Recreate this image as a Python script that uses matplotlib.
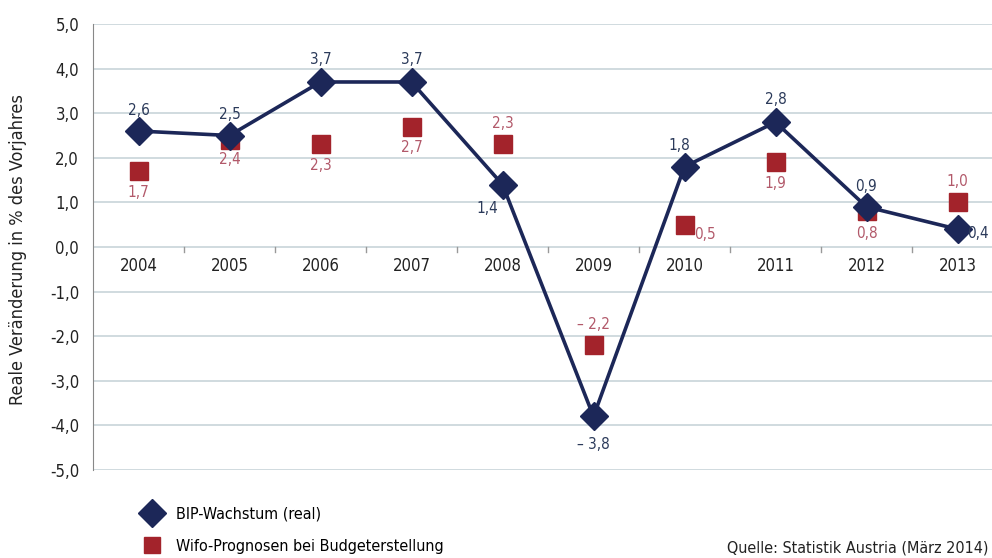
import numpy as np
import matplotlib.pyplot as plt
from matplotlib.lines import Line2D

years = ["2004", "2005", "2006", "2007", "2008", "2009", "2010", "2011", "2012", "2013"]
bip = [2.6, 2.5, 3.7, 3.7, 1.4, -3.8, 1.8, 2.8, 0.9, 0.4]
wifo = [1.7, 2.4, 2.3, 2.7, 2.3, -2.2, 0.5, 1.9, 0.8, 1.0]

# where each value label sits relative to its marker (dx, dy in points)
bip_off = [(0, 15), (0, 15), (0, 16), (0, 16), (-11, -17), (0, -20), (-4, 15), (0, 16), (0, 15), (15, -3)]
wifo_off = [(0, -15), (0, -14), (0, -15), (0, -15), (0, 15), (0, 15), (15, -7), (0, -15), (0, -16), (0, 15)]

navy = "#1c2758"
red = "#a3232b"
navy_txt = "#2b3a5a"
red_txt = "#b2596a"

plt.rcParams['font.family'] = ['DejaVu Sans']
plt.rcParams['font.stretch'] = 'condensed'

fig = plt.figure(figsize=(9.92, 5.58), dpi=100)
ax = fig.add_axes([93 / 992, 1 - 470 / 558, 1 - 93 / 992, (470 - 24) / 558])

x = np.arange(len(years))
ax.plot(x, wifo, ls="none", marker="s", ms=12.5, color=red, zorder=3)
ax.plot(x, bip, color=navy, lw=2.6, marker="D", ms=14, zorder=4)

for i in range(len(x)):
    ax.annotate(f"{bip[i]:.1f}".replace(".", ",").replace("-", "– "), (x[i], bip[i]),
                xytext=bip_off[i], textcoords="offset points",
                ha="center", va="center", fontsize=11, color=navy_txt, zorder=5)
    ax.annotate(f"{wifo[i]:.1f}".replace(".", ",").replace("-", "– "), (x[i], wifo[i]),
                xytext=wifo_off[i], textcoords="offset points",
                ha="center", va="center", fontsize=11, color=red_txt, zorder=5)

ax.set_xlim(-0.5, (992 - 93) / 91 - 0.5)
ax.set_ylim(-5, 5)
ax.set_yticks(np.arange(-5, 6, 1))
ax.set_yticklabels([f"{v:.1f}".replace(".", ",") for v in np.arange(-5, 6, 1)], fontsize=12)
ax.yaxis.grid(True, color="#cdd8dc", lw=1.3)
ax.set_axisbelow(True)
ax.tick_params(axis="y", length=0, pad=10, labelcolor="#222222")

ax.set_xticks([])
for i, y in enumerate(years):
    ax.text(x[i], -0.22, y, ha="center", va="top", fontsize=12, color="#222222")
for b in np.arange(0.5, 9, 1):
    ax.plot([b, b], [0, -0.12], color="#999999", lw=1, zorder=2)

for s in ["top", "right", "bottom"]:
    ax.spines[s].set_visible(False)
ax.spines["left"].set_color("#888888")

fig.text(18 / 992, 1 - 250 / 558, "Reale Veränderung in % des Vorjahres", rotation=90,
         ha="center", va="center", fontsize=13, color="#222222")

handles = [Line2D([], [], ls="none", marker="D", ms=14, color=navy),
           Line2D([], [], ls="none", marker="s", ms=12, color=red)]
fig.legend(handles, ["BIP-Wachstum (real)", "Wifo-Prognosen bei Budgeterstellung"],
           loc="upper left", bbox_to_anchor=(130 / 992, 1 - 500 / 558), frameon=False,
           fontsize=11.5, handletextpad=0.5, labelspacing=1.1, borderaxespad=0)

fig.text(727 / 992, 1 - 548 / 558, "Quelle: Statistik Austria (März 2014)", ha="left",
         va="center", fontsize=11.5, color="#222222")

fig.savefig("out.png", dpi=100)
